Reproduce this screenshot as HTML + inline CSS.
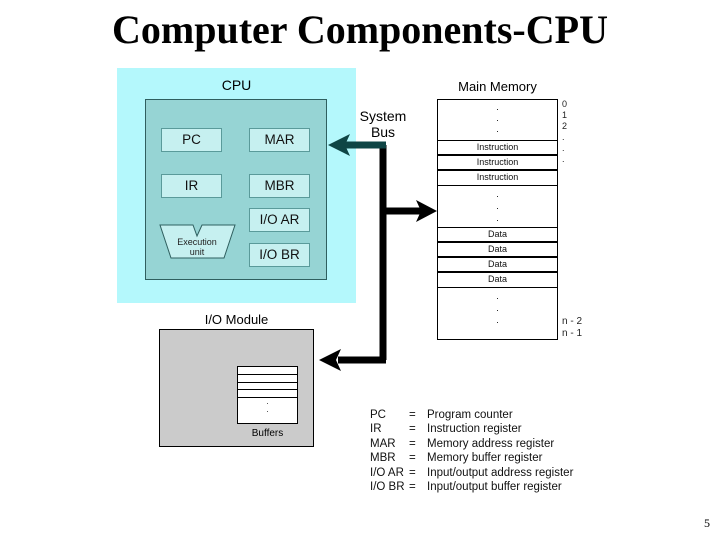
<!DOCTYPE html>
<html><head><style>
body{margin:0;width:720px;height:540px;background:#fff;overflow:hidden;position:relative;font-family:"Liberation Sans",sans-serif}
.a{position:absolute}
.reg{position:absolute;background:#c6f0f0;border:1px solid #5a9a9a;font-size:13.5px;text-align:center;line-height:22px;color:#111;box-sizing:border-box;height:24px;width:61px}
.mr{position:absolute;left:437px;width:121px;border:1.5px solid #000;box-sizing:border-box;background:#fff;font-size:9px;text-align:center;line-height:12px;color:#111}
.leg{position:absolute;font-size:11.5px;color:#111;line-height:14.4px}
</style></head><body>
<div class="a" style="left:0;width:720px;top:7px;text-align:center;font-family:'Liberation Serif',serif;font-weight:bold;font-size:40px;line-height:46px;color:#000">Computer Components-CPU</div>
<div class="a" style="left:117px;top:68px;width:239px;height:235px;background:#b4f8fc"></div>
<div class="a" style="left:117px;top:77px;width:239px;text-align:center;font-size:14px">CPU</div>
<div class="a" style="left:145px;top:99px;width:182px;height:181px;background:#96d4d4;border:1.5px solid #2f5f5f;box-sizing:border-box"></div>
<div class="reg" style="left:161px;top:128px">PC</div>
<div class="reg" style="left:249px;top:128px">MAR</div>
<div class="reg" style="left:161px;top:174px">IR</div>
<div class="reg" style="left:249px;top:174px">MBR</div>
<div class="reg" style="left:249px;top:208px">I/O AR</div>
<div class="reg" style="left:249px;top:243px">I/O BR</div>
<svg class="a" style="left:0;top:0" width="720" height="540">
<polygon points="160,225 193,225 197,236 202,225 235,225 224,258 171,258" fill="#c6f0f0" stroke="#2f5f5f" stroke-width="1"/>
<text x="197" y="245" font-size="9" text-anchor="middle" font-family="Liberation Sans" fill="#222">Execution</text>
<text x="197" y="255" font-size="9" text-anchor="middle" font-family="Liberation Sans" fill="#222">unit</text>
<path d="M383,145 V360" stroke="#000" stroke-width="7" fill="none"/>
<path d="M386,145 H345" stroke="#0f4545" stroke-width="7"/>
<polygon points="328,145 350,134 345,145 350,156" fill="#0f4545"/>
<path d="M383,211 H425" stroke="#000" stroke-width="7"/>
<polygon points="437,211 416,200 421,211 416,222" fill="#000"/>
<path d="M386,360 H338" stroke="#000" stroke-width="7"/>
<polygon points="319,360 341,349 336,360 341,371" fill="#000"/>
</svg>
<div class="a" style="left:357px;top:108px;width:52px;text-align:center;font-size:14px;line-height:16px">System<br>Bus</div>
<div class="a" style="left:437px;top:79px;width:121px;text-align:center;font-size:13px">Main Memory</div>
<div class="mr" style="top:99px;height:241px"></div>
<div class="mr" style="top:140px;height:15px">Instruction</div>
<div class="mr" style="top:155px;height:15px">Instruction</div>
<div class="mr" style="top:170px;height:16px">Instruction</div>
<div class="mr" style="top:227px;height:15px">Data</div>
<div class="mr" style="top:242px;height:15px">Data</div>
<div class="mr" style="top:257px;height:15px">Data</div>
<div class="mr" style="top:272px;height:16px">Data</div>
<div class="a" style="left:437px;width:121px;top:102px;text-align:center;font-size:9px;line-height:11px">.<br>.<br>.</div>
<div class="a" style="left:437px;width:121px;top:188px;text-align:center;font-size:9px;line-height:12px">.<br>.<br>.</div>
<div class="a" style="left:437px;width:121px;top:290px;text-align:center;font-size:9px;line-height:12px">.<br>.<br>.</div>
<div class="a" style="left:562px;top:99px;font-size:9px;line-height:11px;color:#222">0<br>1<br>2<br>.<br>.<br>.</div>
<div class="a" style="left:562px;top:316px;font-size:10px;line-height:12px;color:#222">n - 2<br>n - 1</div>
<div class="a" style="left:159px;top:312px;width:155px;text-align:center;font-size:13px">I/O Module</div>
<div class="a" style="left:159px;top:329px;width:155px;height:118px;background:#cbcbcb;border:1.5px solid #000;box-sizing:border-box"></div>
<div class="a" style="left:237px;top:366px;width:61px;height:58px;background:#fff;border:1px solid #000;box-sizing:border-box"></div>
<div class="a" style="left:237px;top:374px;width:61px;height:24px;border-top:1px solid #000;border-bottom:1px solid #000;box-sizing:border-box"></div>
<div class="a" style="left:237px;top:382px;width:61px;height:8px;border-top:1px solid #000;border-bottom:1px solid #000;box-sizing:border-box"></div>
<div class="a" style="left:237px;top:398px;width:61px;text-align:center;font-size:8px;line-height:8px">.<br>.</div>
<div class="a" style="left:237px;top:428px;width:61px;text-align:center;font-size:10px">Buffers</div>
<div class="leg" style="left:370px;top:408px">PC<br>IR<br>MAR<br>MBR<br>I/O AR<br>I/O BR</div>
<div class="leg" style="left:409px;top:408px">=<br>=<br>=<br>=<br>=<br>=</div>
<div class="leg" style="left:427px;top:408px">Program counter<br>Instruction register<br>Memory address register<br>Memory buffer register<br>Input/output address register<br>Input/output buffer register</div>
<div class="a" style="left:704px;top:516px;font-family:'Liberation Serif',serif;font-size:12px">5</div>
</body></html>
